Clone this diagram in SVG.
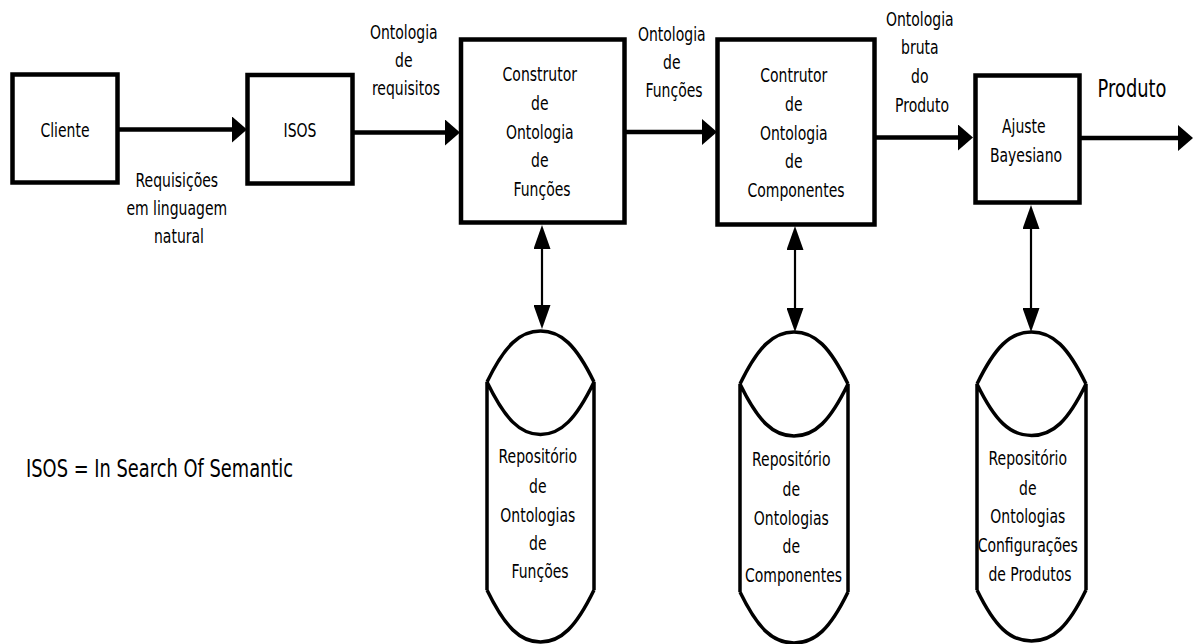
<svg xmlns="http://www.w3.org/2000/svg" width="1193" height="644" viewBox="0 0 1193 644">
  <style>
    .box { fill: #fff; stroke: #000; stroke-width: 4.5; }
    .repo { fill: none; stroke: #000; stroke-width: 3.5; stroke-linejoin: round; }
    .flow { fill: none; stroke: #000; stroke-width: 4.5; }
    .link { fill: none; stroke: #000; stroke-width: 2.2; }
    .lbl { font-family: "DejaVu Sans", "Liberation Sans", sans-serif; font-size: 20px; fill: #000; text-anchor: middle; }
    .big { font-size: 25.5px; }
    .left { text-anchor: start; }
  </style>
  <defs>
    <marker id="ah" markerUnits="userSpaceOnUse" viewBox="0 0 15 26" markerWidth="15" markerHeight="26" refX="0" refY="13" orient="auto">
      <path d="M0,0 L15,13 L0,26 Z" fill="#000"/>
    </marker>
    <marker id="av" markerUnits="userSpaceOnUse" viewBox="0 0 24 17" markerWidth="24" markerHeight="17" refX="0" refY="8.5" orient="auto-start-reverse">
      <path d="M0,0 L24,8.5 L0,17 Z" fill="#000"/>
    </marker>
  </defs>

  <rect width="1193" height="644" fill="#fff"/>

  <!-- connectors -->
  <g id="connectors">
    <path class="flow" d="M117,129.5 H232" marker-end="url(#ah)"/>
    <path class="flow" d="M352,132.5 H445" marker-end="url(#ah)"/>
    <path class="flow" d="M624,132 H702" marker-end="url(#ah)"/>
    <path class="flow" d="M874,137.5 H958" marker-end="url(#ah)"/>
    <path class="flow" d="M1079,138 H1178" marker-end="url(#ah)"/>
    <path class="link" d="M542,249 V305" marker-start="url(#av)" marker-end="url(#av)"/>
    <path class="link" d="M795,250 V308" marker-start="url(#av)" marker-end="url(#av)"/>
    <path class="link" d="M1031,229 V308" marker-start="url(#av)" marker-end="url(#av)"/>

    <text class="lbl" transform="translate(179 0) scale(0.7 1)">
      <tspan x="0" y="187">Requisições</tspan>
      <tspan x="0" y="215">em linguagem</tspan>
      <tspan x="0" y="243">natural</tspan>
    </text>
    <text class="lbl" transform="translate(406 0) scale(0.7 1)">
      <tspan x="0" y="39">Ontologia</tspan>
      <tspan x="0" y="67">de</tspan>
      <tspan x="0" y="95">requisitos</tspan>
    </text>
    <text class="lbl" transform="translate(674 0) scale(0.7 1)">
      <tspan x="0" y="41">Ontologia</tspan>
      <tspan x="0" y="69">de</tspan>
      <tspan x="0" y="97">Funções</tspan>
    </text>
    <text class="lbl" transform="translate(922 0) scale(0.7 1)">
      <tspan x="0" y="26">Ontologia</tspan>
      <tspan x="0" y="54.5">bruta</tspan>
      <tspan x="0" y="83">do</tspan>
      <tspan x="0" y="112">Produto</tspan>
    </text>
    <text class="lbl big" transform="translate(1132 0) scale(0.7 1)">
      <tspan x="0" y="97">Produto</tspan>
    </text>
  </g>

  <g id="cliente">
    <rect class="box" x="12.5" y="74.5" width="105" height="108"/>
    <text class="lbl" transform="translate(65 0) scale(0.7 1)"><tspan x="0" y="137">Cliente</tspan></text>
  </g>

  <g id="isos">
    <rect class="box" x="247.5" y="75" width="105" height="108.5"/>
    <text class="lbl" transform="translate(300 0) scale(0.7 1)"><tspan x="0" y="137">ISOS</tspan></text>
  </g>

  <g id="construtor-funcoes">
    <rect class="box" x="461" y="39.5" width="163.5" height="183"/>
    <text class="lbl" transform="translate(542 0) scale(0.7 1)">
      <tspan x="0" y="81">Construtor</tspan>
      <tspan x="0" y="110">de</tspan>
      <tspan x="0" y="139">Ontologia</tspan>
      <tspan x="0" y="167">de</tspan>
      <tspan x="0" y="196">Funções</tspan>
    </text>
  </g>

  <g id="construtor-componentes">
    <rect class="box" x="717.5" y="39.5" width="157" height="185"/>
    <text class="lbl" transform="translate(796 0) scale(0.7 1)">
      <tspan x="0" y="82">Contrutor</tspan>
      <tspan x="0" y="111">de</tspan>
      <tspan x="0" y="140">Ontologia</tspan>
      <tspan x="0" y="168">de</tspan>
      <tspan x="0" y="197">Componentes</tspan>
    </text>
  </g>

  <g id="ajuste-bayesiano">
    <rect class="box" x="975.5" y="75.5" width="104" height="127"/>
    <text class="lbl" transform="translate(1026 0) scale(0.7 1)">
      <tspan x="0" y="133">Ajuste</tspan>
      <tspan x="0" y="162">Bayesiano</tspan>
    </text>
  </g>

  <g id="repo-funcoes">
    <path class="repo" d="M487,382 C505,345 520,331 540.5,331 C561,331 576,345 594,382 M487,382 C505,419 520,434.5 540.5,434.5 C561,434.5 576,419 594,382 M487,382 V590 M594,382 V590 M487,590 C505,627 520,642 540.5,642 C561,642 576,627 594,590"/>
    <text class="lbl" transform="translate(540 0) scale(0.7 1)">
      <tspan x="0" y="463">Repositório</tspan>
      <tspan x="0" y="493">de</tspan>
      <tspan x="0" y="522">Ontologias</tspan>
      <tspan x="0" y="550">de</tspan>
      <tspan x="0" y="578">Funções</tspan>
    </text>
  </g>

  <g id="repo-componentes">
    <path class="repo" d="M740,384 C758,347 773,332 794,332 C815,332 830,347 848,384 M740,384 C758,421 773,436 794,436 C815,436 830,421 848,384 M740,384 V592 M848,384 V592 M740,592 C758,629 773,643 794,643 C815,643 830,629 848,592"/>
    <text class="lbl" transform="translate(793.5 0) scale(0.7 1)">
      <tspan x="0" y="466">Repositório</tspan>
      <tspan x="0" y="496">de</tspan>
      <tspan x="0" y="525">Ontologias</tspan>
      <tspan x="0" y="553">de</tspan>
      <tspan x="0" y="582">Componentes</tspan>
    </text>
  </g>

  <g id="repo-configuracoes">
    <path class="repo" d="M977,384 C995,347 1010,332 1031.5,332 C1053,332 1068,347 1086,384 M977,384 C995,421 1010,435.5 1031.5,435.5 C1053,435.5 1068,421 1086,384 M977,384 V590 M1086,384 V590 M977,590 C995,627 1010,641 1031.5,641 C1053,641 1068,627 1086,590"/>
    <text class="lbl" transform="translate(1030 0) scale(0.7 1)">
      <tspan x="0" y="465">Repositório</tspan>
      <tspan x="0" y="495">de</tspan>
      <tspan x="0" y="523">Ontologias</tspan>
      <tspan x="0" y="552">Configurações</tspan>
      <tspan x="0" y="581">de Produtos</tspan>
    </text>
  </g>

  <text class="lbl big left" transform="translate(26 0) scale(0.7 1)"><tspan x="0" y="477">ISOS = In Search Of Semantic</tspan></text>
</svg>
